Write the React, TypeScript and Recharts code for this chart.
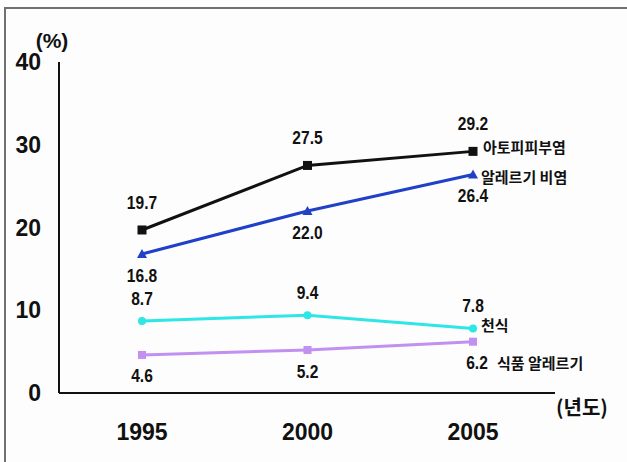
import React from 'react';
import { LineChart, Line, XAxis, YAxis, LabelList, Label } from 'recharts';

const years = ['1995', '2000', '2005'];
const atopy = [19.7, 27.5, 29.2];
const rhinitis = [16.8, 22.0, 26.4];
const asthma = [8.7, 9.4, 7.8];
const foodAllergy = [4.6, 5.2, 6.2];
const seriesNames = ['아토피피부염', '알레르기 비염', '천식', '식품 알레르기'];
const yTicks = [0, 10, 20, 30, 40];

const data = years.map((year, i) => ({
  year,
  atopy: atopy[i],
  rhinitis: rhinitis[i],
  asthma: asthma[i],
  food: foodAllergy[i],
}));

const NUM_FONT = '"Liberation Sans", Arial, sans-serif';
const KR_FONT = '"Noto Sans CJK KR", sans-serif';

// value label + series name at the last point
const makeLabel = (dy: number, name: string, nameDx: number, nameDy: number, valueDx = 0) => (props: any) => {
  const { x, y, value, index } = props;
  const last = index === years.length - 1;
  const vx = x + (last ? valueDx : 0);
  return (
    <g>
      <text
        transform={`translate(${vx},${y + dy}) scale(0.82,1)`}
        x={0}
        y={0}
        textAnchor="middle"
        dominantBaseline="central"
        fontFamily={NUM_FONT}
        fontWeight="bold"
        fontSize={19}
        fill="#111"
      >
        {value.toFixed(1)}
      </text>
      {last && (
        <text
          x={x + nameDx}
          y={y + nameDy}
          dominantBaseline="central"
          fontFamily={KR_FONT}
          fontWeight="bold"
          fontSize={15}
          fill="#111"
        >
          {name}
        </text>
      )}
    </g>
  );
};

const SquareDot = (color: string, s: number) => (props: any) => {
  const { cx, cy, index } = props;
  return <rect key={index} x={cx - s / 2} y={cy - s / 2} width={s} height={s} fill={color} />;
};

const TriDot = (color: string) => (props: any) => {
  const { cx, cy, index } = props;
  return <path key={index} d={`M${cx},${cy - 5} L${cx + 5},${cy + 4} L${cx - 5},${cy + 4} Z`} fill={color} />;
};

const CircleDot = (color: string) => (props: any) => {
  const { cx, cy, index } = props;
  return <circle key={index} cx={cx} cy={cy} r={4} fill={color} />;
};

export default function App() {
  return (
    <div
      style={{
        position: 'absolute',
        left: 0,
        top: 0,
        width: 627,
        height: 462,
        background: '#fdfdfd',
        overflow: 'hidden',
      }}
    >
      <div
        style={{
          position: 'absolute',
          left: 4,
          top: 7,
          width: 640,
          height: 480,
          borderLeft: '2px solid #707070',
          borderTop: '2px solid #707070',
        }}
      />
      <div style={{ position: 'absolute', left: 0, top: 0 }}>
        <LineChart width={627} height={462} data={data} margin={{ top: 62, right: 72, left: 0, bottom: 0 }}>
          <XAxis
            dataKey="year"
            height={69}
            padding={{ left: 83, right: 82 }}
            axisLine={{ stroke: '#111', strokeWidth: 2 }}
            tickLine={false}
            tickSize={0}
            tickMargin={31}
            tick={{ fill: '#111', fontSize: 23, fontWeight: 'bold', fontFamily: NUM_FONT }}
          >
            <Label
              content={(p: any) => {
                const vb = p.viewBox;
                return (
                  <text
                    x={vb.x + vb.width + 1}
                    y={vb.y + 13}
                    dominantBaseline="central"
                    fontFamily={KR_FONT}
                    fontWeight="bold"
                    fontSize={20}
                    fill="#111"
                  >
                    (년도)
                  </text>
                );
              }}
            />
          </XAxis>
          <YAxis
            width={59}
            domain={[0, 40]}
            ticks={yTicks}
            interval={0}
            axisLine={{ stroke: '#111', strokeWidth: 2 }}
            tickLine={false}
            tickSize={0}
            tickMargin={18}
            tick={{ fill: '#111', fontSize: 23, fontWeight: 'bold', fontFamily: NUM_FONT }}
          >
            <Label
              content={(p: any) => {
                const vb = p.viewBox;
                return (
                  <text
                    x={vb.x + vb.width - 7}
                    y={vb.y - 22}
                    textAnchor="middle"
                    dominantBaseline="central"
                    fontFamily={NUM_FONT}
                    fontWeight="bold"
                    fontSize={21}
                    fill="#111"
                  >
                    (%)
                  </text>
                );
              }}
            />
          </YAxis>
          <Line dataKey="atopy" stroke="#111" strokeWidth={3} dot={SquareDot('#111', 9)} isAnimationActive={false}>
            <LabelList dataKey="atopy" content={makeLabel(-28, seriesNames[0], 10, -5)} />
          </Line>
          <Line dataKey="rhinitis" stroke="#2040c8" strokeWidth={3} dot={TriDot('#2040c8')} isAnimationActive={false}>
            <LabelList dataKey="rhinitis" content={makeLabel(21, seriesNames[1], 8, 2)} />
          </Line>
          <Line dataKey="asthma" stroke="#2ee6e6" strokeWidth={3} dot={CircleDot('#2ee6e6')} isAnimationActive={false}>
            <LabelList dataKey="asthma" content={makeLabel(-23, seriesNames[2], 8, -4)} />
          </Line>
          <Line dataKey="food" stroke="#c290f0" strokeWidth={3} dot={SquareDot('#c290f0', 8)} isAnimationActive={false}>
            <LabelList dataKey="food" content={makeLabel(21, seriesNames[3], 24, 21, 4)} />
          </Line>
        </LineChart>
      </div>
    </div>
  );
}
